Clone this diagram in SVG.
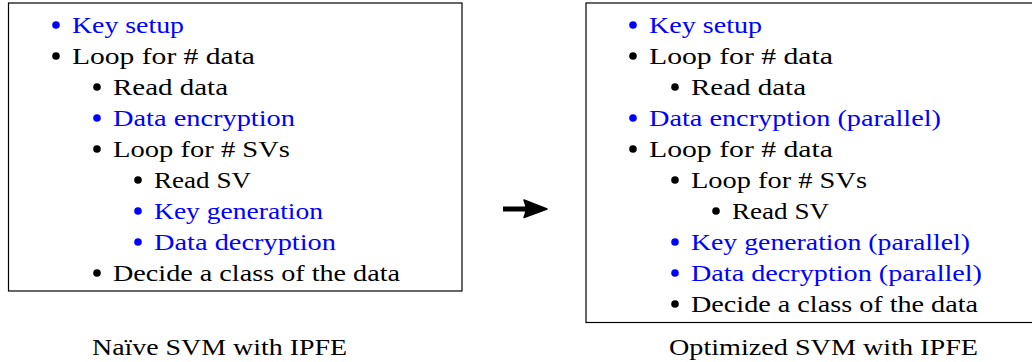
<svg xmlns="http://www.w3.org/2000/svg" width="1032" height="362" viewBox="0 0 1032 362">
<style>
text{font-family:'Liberation Serif','Times New Roman',Tinos,'Noto Serif','DejaVu Serif',FreeSerif,'Nimbus Roman','Nimbus Roman No9 L',Times,serif;font-size:24px;fill:#000}
.b{fill:#0000ff}
.box{fill:#fff;stroke:#000;stroke-width:1.2}
circle{fill:#000}
circle.b{fill:#0000ff}
</style>
<rect width="1032" height="362" fill="#fff"/>
<g id="naive">
<rect class="box" x="8.5" y="3" width="453.5" height="288"/>
<circle class="b" cx="56" cy="25" r="3.8"/><text class="b" x="72" y="33" textLength="112" lengthAdjust="spacingAndGlyphs">Key setup</text>
<circle cx="56" cy="56" r="3.8"/><text x="72" y="64" textLength="183" lengthAdjust="spacingAndGlyphs">Loop for # data</text>
<circle cx="97" cy="87" r="3.8"/><text x="113" y="95" textLength="115" lengthAdjust="spacingAndGlyphs">Read data</text>
<circle class="b" cx="97" cy="118" r="3.8"/><text class="b" x="113" y="126" textLength="182" lengthAdjust="spacingAndGlyphs">Data encryption</text>
<circle cx="97" cy="149" r="3.8"/><text x="113" y="157" textLength="177" lengthAdjust="spacingAndGlyphs">Loop for # SVs</text>
<circle cx="138" cy="180" r="3.8"/><text x="154" y="188" textLength="97" lengthAdjust="spacingAndGlyphs">Read SV</text>
<circle class="b" cx="138" cy="211" r="3.8"/><text class="b" x="154" y="219" textLength="169" lengthAdjust="spacingAndGlyphs">Key generation</text>
<circle class="b" cx="138" cy="242" r="3.8"/><text class="b" x="154" y="250" textLength="182" lengthAdjust="spacingAndGlyphs">Data decryption</text>
<circle cx="97" cy="273" r="3.8"/><text x="113" y="281" textLength="287" lengthAdjust="spacingAndGlyphs">Decide a class of the data</text>
</g>
<g id="optimized">
<rect class="box" x="586" y="3" width="460" height="319.5"/>
<circle class="b" cx="633" cy="25" r="3.8"/><text class="b" x="649" y="33" textLength="113" lengthAdjust="spacingAndGlyphs">Key setup</text>
<circle cx="633" cy="56" r="3.8"/><text x="649" y="64" textLength="184" lengthAdjust="spacingAndGlyphs">Loop for # data</text>
<circle cx="675" cy="87" r="3.8"/><text x="691" y="95" textLength="115" lengthAdjust="spacingAndGlyphs">Read data</text>
<circle class="b" cx="633" cy="118" r="3.8"/><text class="b" x="649" y="126" textLength="292" lengthAdjust="spacingAndGlyphs">Data encryption (parallel)</text>
<circle cx="633" cy="149" r="3.8"/><text x="649" y="157" textLength="184" lengthAdjust="spacingAndGlyphs">Loop for # data</text>
<circle cx="675" cy="180" r="3.8"/><text x="691" y="188" textLength="176" lengthAdjust="spacingAndGlyphs">Loop for # SVs</text>
<circle cx="716" cy="211" r="3.8"/><text x="732" y="219" textLength="97" lengthAdjust="spacingAndGlyphs">Read SV</text>
<circle class="b" cx="675" cy="242" r="3.8"/><text class="b" x="691" y="250" textLength="279" lengthAdjust="spacingAndGlyphs">Key generation (parallel)</text>
<circle class="b" cx="675" cy="273" r="3.8"/><text class="b" x="691" y="281" textLength="291" lengthAdjust="spacingAndGlyphs">Data decryption (parallel)</text>
<circle cx="675" cy="304" r="3.8"/><text x="691" y="312" textLength="287" lengthAdjust="spacingAndGlyphs">Decide a class of the data</text>
</g>
<g id="captions">
<text x="92" y="355" textLength="255" lengthAdjust="spacingAndGlyphs">Naïve SVM with IPFE</text>
<text x="669" y="355" textLength="309" lengthAdjust="spacingAndGlyphs">Optimized SVM with IPFE</text>
</g>
<g id="connectors">
<line x1="503" y1="209" x2="527" y2="209" stroke="#000" stroke-width="5"/>
<path d="M524,200 L547,209 L524,217.5 Q528,209 524,200 Z" fill="#000" stroke="#000" stroke-width="1.5" stroke-linejoin="round"/>
</g>
</svg>
